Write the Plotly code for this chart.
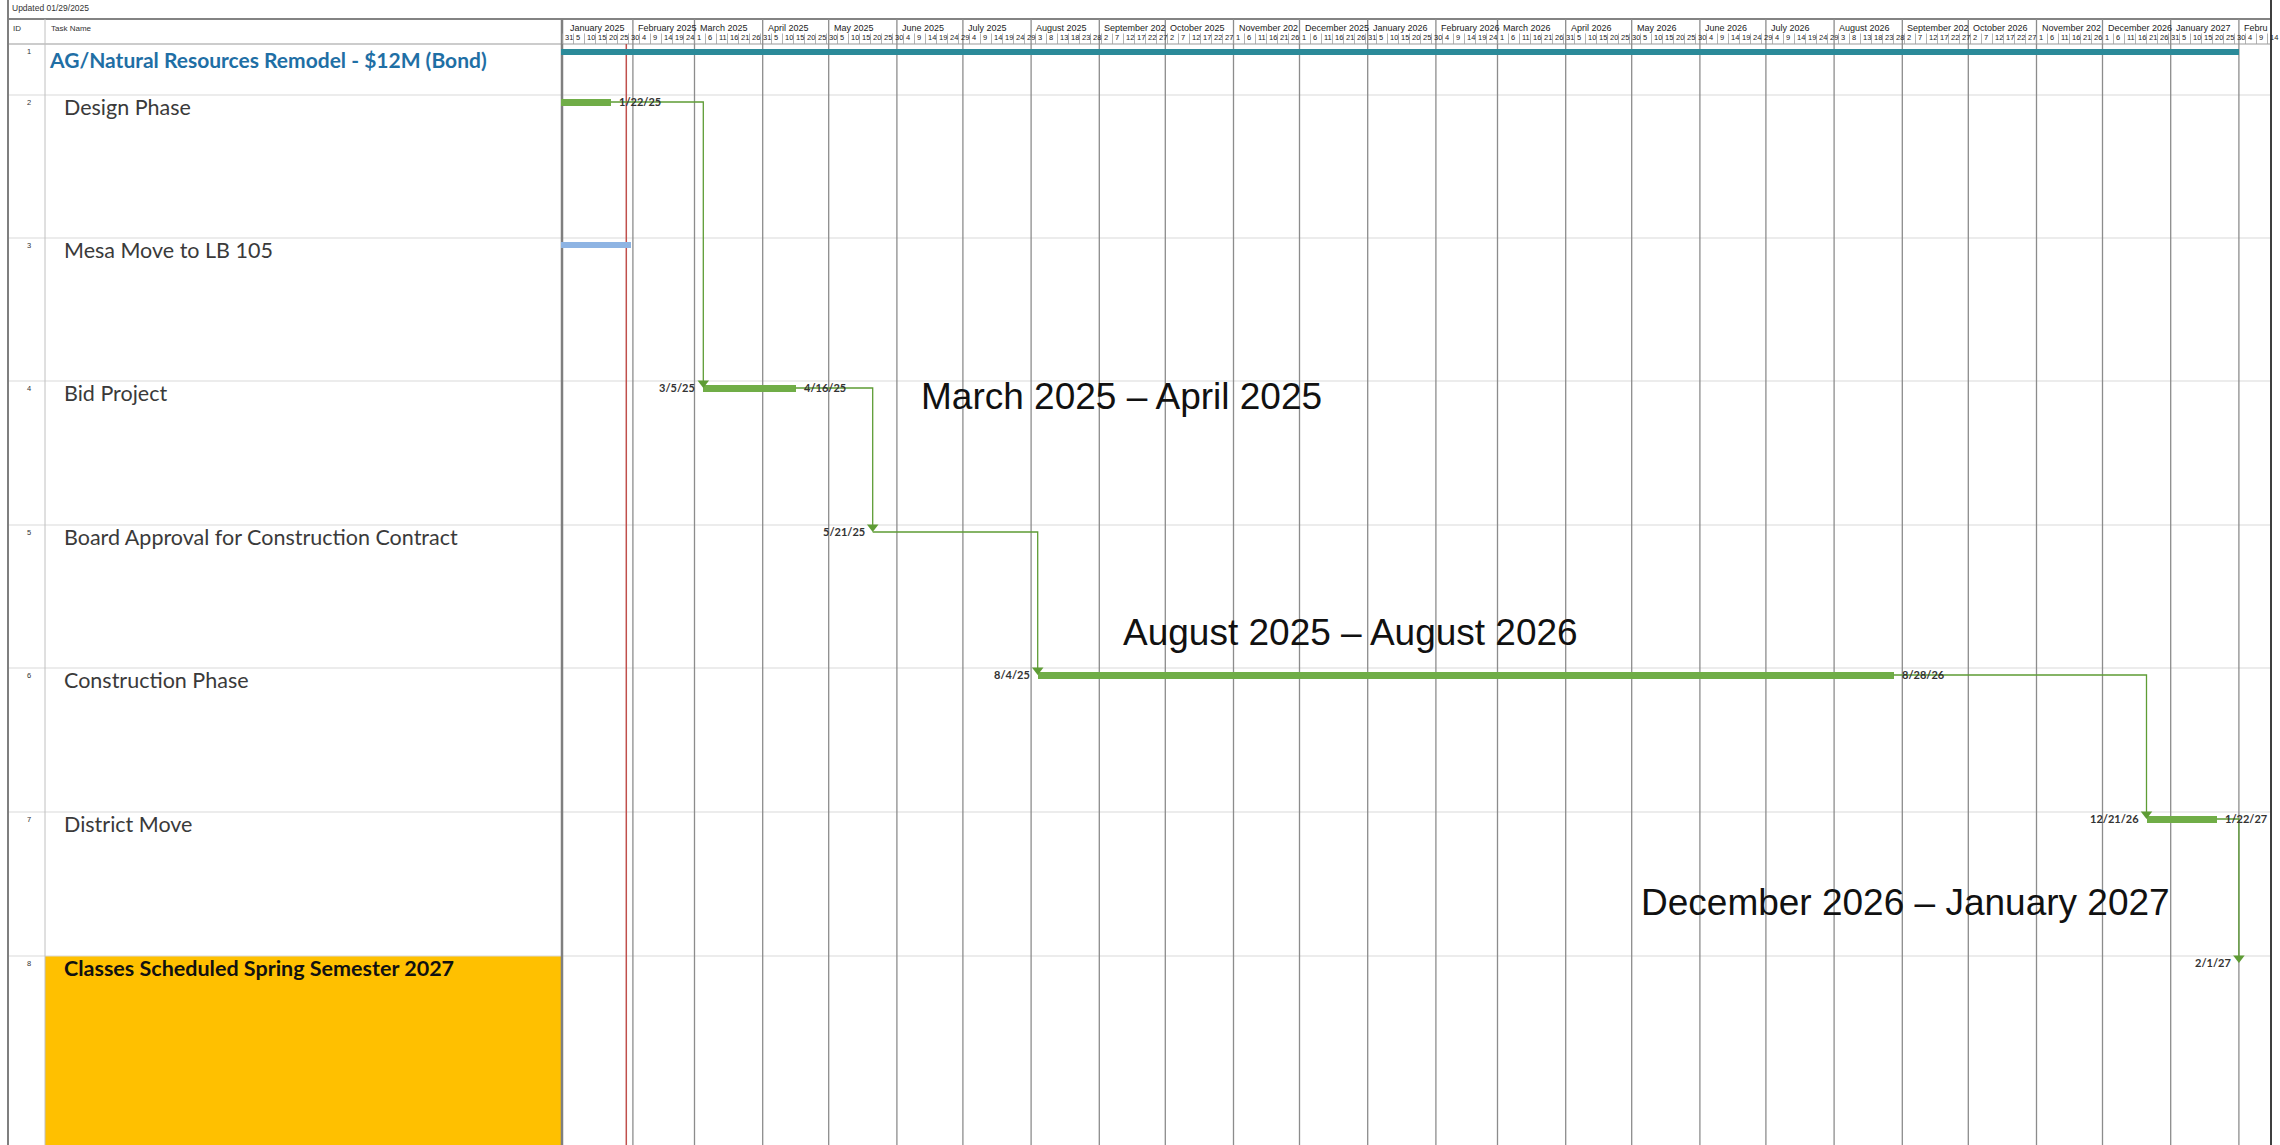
import pandas as pd
import plotly.graph_objects as go

# ---------------- data ----------------
updated_label = "Updated 01/29/2025"
status_date = "2025-01-29"

task_ids = [1, 2, 3, 4, 5, 6, 7, 8]
task_names = [
    "AG/Natural Resources Remodel - $12M (Bond)",
    "Design Phase",
    "Mesa Move to LB 105",
    "Bid Project",
    "Board Approval for Construction Contract",
    "Construction Phase",
    "District Move",
    "Classes Scheduled Spring Semester 2027",
]
task_start = ["2024-12-16", "2024-12-16", "2024-12-16", "2025-03-05",
              "2025-05-21", "2025-08-04", "2026-12-21", "2027-02-01"]
task_finish = ["2027-02-01", "2025-01-22", "2025-01-31", "2025-04-16",
               "2025-05-21", "2026-08-28", "2027-01-22", "2027-02-01"]
task_kind = ["summary", "task", "move", "task", "milestone", "task", "task", "milestone"]
start_labels = [None, None, None, "3/5/25", "5/21/25", "8/4/25", "12/21/26", "2/1/27"]
finish_labels = [None, "1/22/25", None, "4/16/25", None, "8/28/26", "1/22/27", None]

link_pred = [2, 4, 5, 6, 7]
link_succ = [4, 5, 6, 7, 8]

month_labels = [
    "January 2025", "February 2025", "March 2025", "April 2025", "May 2025", "June 2025",
    "July 2025", "August 2025", "September 202", "October 2025", "November 202", "December 2025",
    "January 2026", "February 2026", "March 2026", "April 2026", "May 2026", "June 2026",
    "July 2026", "August 2026", "September 202", "October 2026", "November 202", "December 2026",
    "January 2027", "Febru",
]
first_month = "2025-01-01"
day_tick_first = "2024-12-31"
day_tick_last = "2027-02-14"

callout_texts = ["March 2025 \u2013 April 2025",
                 "August 2025 \u2013 August 2026",
                 "December 2026 \u2013 January 2027"]

# ---------------- geometry / style ----------------
W, H = 2280, 1145
chart_left, chart_right = 561, 2271
ref_date, ref_px, px_per_day = pd.Timestamp("2025-03-05"), 703.3, 2.2
x_min = ref_date - pd.Timedelta(days=(ref_px - chart_left) / px_per_day)
x_max = ref_date + pd.Timedelta(days=(chart_right - ref_px) / px_per_day)

header_top, header_month_y, header_day_y, header_bottom = 19, 28, 37.5, 44
row_tops = [44, 95, 238, 381, 525, 668, 812, 956]
bar_y = [52] + [t + 7 for t in row_tops[1:]]
kind_color = {"summary": "#2B8A99", "task": "#70AD47", "move": "#8EB4E3"}
kind_height = {"summary": 6, "task": 7, "move": 6}
link_color = "#5E9C35"
grid_color = "#8C8C8C"
border_color = "#7F7F7F"
callout_pos = [(919, 396), (1121, 632), (1639, 902)]

def px(xp):
    return xp / W

fig = go.Figure()

# bars
bx, bbase, by, bw, bc = [], [], [], [], []
for i, k in enumerate(task_kind):
    if k == "milestone":
        continue
    s, f = pd.Timestamp(task_start[i]), pd.Timestamp(task_finish[i])
    bbase.append(s.strftime("%Y-%m-%d"))
    bx.append((f - s).total_seconds() * 1000)
    by.append(bar_y[i])
    bw.append(kind_height[k])
    bc.append(kind_color[k])
fig.add_trace(go.Bar(orientation="h", base=bbase, x=bx, y=by, width=bw,
                     marker=dict(color=bc, line=dict(width=0)),
                     hoverinfo="skip", showlegend=False))

# links
idx = {t: i for i, t in enumerate(task_ids)}
lx, ly, axs, ays = [], [], [], []
for p, s in zip(link_pred, link_succ):
    i, j = idx[p], idx[s]
    y0, y1 = bar_y[i], bar_y[j]
    x0, x1 = task_finish[i], task_start[j]
    lx += [x0, x1, x1, None]
    ly += [y0, y0, y1 - 6, None]
    axs.append(x1)
    ays.append(y1 - 5)
fig.add_trace(go.Scatter(x=lx, y=ly, mode="lines", line=dict(color=link_color, width=1.3),
                         hoverinfo="skip", showlegend=False))
fig.add_trace(go.Scatter(x=axs, y=ays, mode="markers",
                         marker=dict(symbol="triangle-down", size=10, color=link_color),
                         hoverinfo="skip", showlegend=False))

shapes = []
annotations = []

def hline(y, x0, x1, color, width=1):
    shapes.append(dict(type="line", xref="paper", yref="y", x0=px(x0), x1=px(x1), y0=y, y1=y,
                       line=dict(color=color, width=width), layer="below"))

def vline_px(x, y0, y1, color, width=1):
    shapes.append(dict(type="line", xref="paper", yref="y", x0=px(x), x1=px(x), y0=y0, y1=y1,
                       line=dict(color=color, width=width), layer="below"))

# gold highlight for row 8 name cell
shapes.append(dict(type="rect", xref="paper", yref="y", x0=px(45), x1=px(562), y0=row_tops[7], y1=H,
                   fillcolor="#FFC000", line=dict(width=0), layer="below"))

# month gridlines
month_starts = pd.date_range(first_month, periods=len(month_labels), freq="MS")
for d in month_starts[1:]:
    shapes.append(dict(type="line", xref="x", yref="y", x0=d, x1=d, y0=header_top, y1=H,
                       line=dict(color=grid_color, width=1.3), layer="below"))
# day tick separators
day_ticks = pd.date_range(day_tick_first, day_tick_last, freq="5D")
for d in day_ticks:
    shapes.append(dict(type="line", xref="x", yref="y", x0=d, x1=d, y0=header_day_y - 4, y1=header_bottom,
                       line=dict(color="#A0A0A0", width=0.8), layer="below"))
# status date line
shapes.append(dict(type="line", xref="x", yref="y", x0=status_date, x1=status_date, y0=header_bottom, y1=H,
                   line=dict(color="#C0504D", width=1.5), layer="below"))

# table lines
hline(header_top, 8, chart_right, "#5A5A5A", 1.5)
hline(header_bottom, 8, chart_right, "#9A9A9A", 1.2)
for t in row_tops[1:]:
    hline(t, 8, chart_right, "#D9D9D9", 1)
vline_px(8, 0, H, border_color, 2)
vline_px(45, header_top, H, "#C0C0C0", 1)
vline_px(562, header_top, H, border_color, 2.5)
vline_px(chart_right, 0, H, "#3F3F3F", 2)

# header texts
annotations.append(dict(xref="paper", yref="y", x=px(10), y=8, text=updated_label, showarrow=False,
                        xanchor="left", yanchor="middle", font=dict(family="Liberation Sans", size=8.5, color="#333")))
annotations.append(dict(xref="paper", yref="y", x=px(11), y=28, text="ID", showarrow=False,
                        xanchor="left", yanchor="middle", font=dict(family="Liberation Sans", size=8, color="#333")))
annotations.append(dict(xref="paper", yref="y", x=px(49), y=28, text="Task Name", showarrow=False,
                        xanchor="left", yanchor="middle", font=dict(family="Liberation Sans", size=8, color="#333")))
for d, lab in zip(month_starts, month_labels):
    annotations.append(dict(xref="x", yref="y", x=d, y=header_month_y, text=lab, showarrow=False, xshift=3,
                            xanchor="left", yanchor="middle",
                            font=dict(family="Liberation Sans", size=9, color="#222")))
for d in day_ticks:
    annotations.append(dict(xref="x", yref="y", x=d, y=header_day_y, text=str(d.day), showarrow=False, xshift=0,
                            xanchor="left", yanchor="middle",
                            font=dict(family="Liberation Sans", size=7.5, color="#222")))

# task rows
for i, (tid, name) in enumerate(zip(task_ids, task_names)):
    annotations.append(dict(xref="paper", yref="y", x=px(29), y=row_tops[i] + 7, text=str(tid),
                            showarrow=False, xanchor="center", yanchor="middle",
                            font=dict(family="Liberation Sans", size=7.5, color="#333")))
    if i == 0:
        f = dict(family="Lato", size=21, color="#1F6FA5")
        txt, x0, yy = "<b>%s</b>" % name, 47, row_tops[i] + 15
    elif i == len(task_ids) - 1:
        f = dict(family="Lato", size=21.5, color="#111111")
        txt, x0, yy = "<b>%s</b>" % name, 62, row_tops[i] + 12
    else:
        f = dict(family="Lato", size=21.5, color="#3A3A3A")
        txt, x0, yy = name, 62, row_tops[i] + 12
    annotations.append(dict(xref="paper", yref="y", x=px(x0), y=yy, text=txt, showarrow=False,
                            xanchor="left", yanchor="middle", font=f))

# date labels
lab_font = dict(family="Lato", size=11, color="#333333")
for i in range(len(task_ids)):
    if start_labels[i]:
        annotations.append(dict(xref="x", yref="y", x=task_start[i], y=bar_y[i] - 1,
                                text="<b>%s</b>" % start_labels[i], showarrow=False,
                                xanchor="right", yanchor="middle", xshift=-6, font=lab_font))
    if finish_labels[i]:
        annotations.append(dict(xref="x", yref="y", x=task_finish[i], y=bar_y[i] - 1,
                                text="<b>%s</b>" % finish_labels[i], showarrow=False,
                                xanchor="left", yanchor="middle", xshift=6, font=lab_font))

# callouts
for txt, (cx, cy) in zip(callout_texts, callout_pos):
    annotations.append(dict(xref="paper", yref="y", x=px(cx), y=cy, text=txt, showarrow=False,
                            xanchor="left", yanchor="middle",
                            font=dict(family="Liberation Sans", size=37, color="#111111")))

fig.update_layout(
    width=W, height=H, margin=dict(l=0, r=0, t=0, b=0),
    paper_bgcolor="white", plot_bgcolor="rgba(0,0,0,0)",
    showlegend=False, bargap=0,
    xaxis=dict(type="date", domain=[px(chart_left), px(chart_right)], range=[x_min, x_max],
               showgrid=False, zeroline=False, showticklabels=False, ticks="", fixedrange=True),
    yaxis=dict(range=[H, 0], domain=[0, 1], showgrid=False, zeroline=False, showticklabels=False,
               ticks="", fixedrange=True),
    shapes=shapes, annotations=annotations,
)

fig.write_html("out.html", config={"displayModeBar": False},
               post_script="document.body.style.margin='0px';document.body.style.overflow='hidden';")
